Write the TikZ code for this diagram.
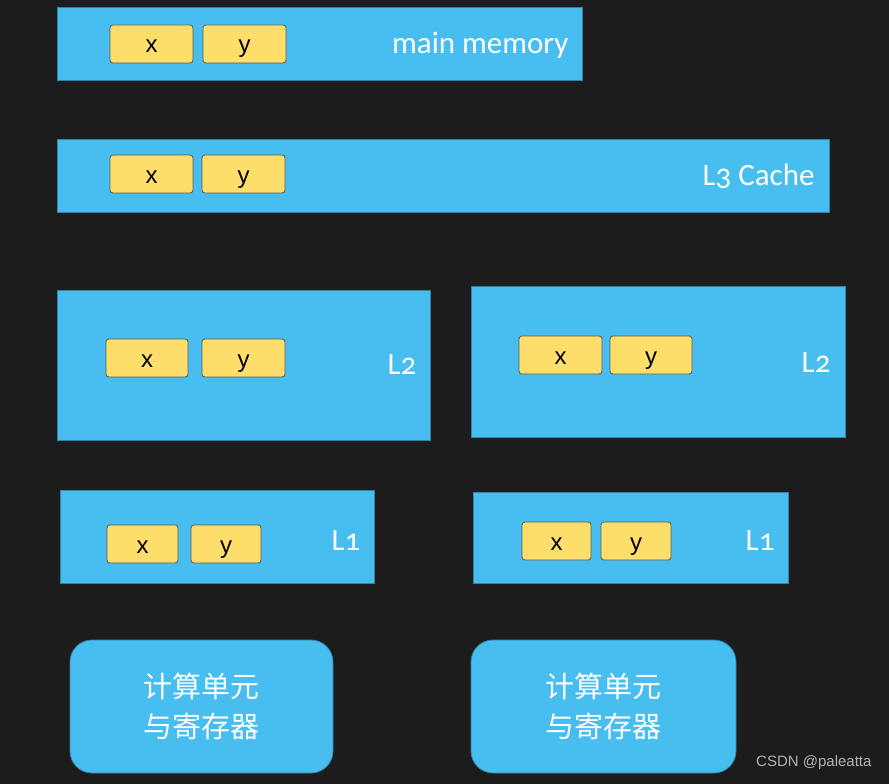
\documentclass[tikz,border=0pt]{standalone}
\usepackage{fontspec}
\setmainfont{Carlito}[Numbers=OldStyle]
\newfontfamily\cjk{Noto Sans CJK SC}
\newfontfamily\arialf{Liberation Sans}
\definecolor{bg}{HTML}{1C1C1C}
\definecolor{blu}{HTML}{48BDF0}
\definecolor{yel}{HTML}{FDDE6A}
\tikzset{
 blk/.style={fill=blu,draw=blu!70!black,line width=0.8pt},
 var/.style={fill=yel,draw=gray!70!black,rounded corners=3pt,line width=0.8pt},
 vt/.style={font=\arialf\fontsize{24}{24}\selectfont,text=black,anchor=base,inner sep=0pt},
 lab/.style={font=\fontsize{31}{31}\selectfont,text=white},
 cu/.style={fill=blu,draw=blu!70!black,rounded corners=22pt,line width=0.8pt},
 cut/.style={font=\cjk\fontsize{29}{40}\selectfont,text=white,align=center}
}
\newcommand\bx[5]{\path[blk] (#2,#3) rectangle (#4,#5); \coordinate (#1) at (#4,#3);}
\newcommand\vv[6]{\path[var] (#2,#3) rectangle (#4,#5); \node[vt] (#1) at ({(#2+#4)/2},{#5-10}) {#6};}
\begin{document}
\begin{tikzpicture}[x=1pt,y=-1pt]
\path[fill=bg] (0,0) rectangle (889,784);
\bx{mm}{57}{7}{582}{80}
\vv{mmx}{110}{25}{193}{63}{x}\vv{mmy}{203}{25}{286}{63}{y}
\node[lab,anchor=east] (mml) at (572,45) {main memory};
\bx{l3}{57}{139}{829}{212}
\vv{l3x}{110}{155}{193}{193}{x}\vv{l3y}{202}{155}{285}{193}{y}
\node[lab,anchor=east] (l3l) at (818,176) {L3 Cache};
\bx{l2a}{57}{290}{430}{440}
\vv{l2ax}{106}{339}{188}{377}{x}\vv{l2ay}{202}{339}{285}{377}{y}
\node[lab,anchor=east] (l2al) at (420,365) {L2};
\bx{l2b}{471}{286}{845}{437}
\vv{l2bx}{519}{336}{602}{374}{x}\vv{l2by}{610}{336}{692}{374}{y}
\node[lab,anchor=east] (l2bl) at (834,363) {L2};
\bx{l1a}{60}{490}{374}{583}
\vv{l1ax}{107}{525}{178}{563}{x}\vv{l1ay}{191}{525}{261}{563}{y}
\node[lab,anchor=east] (l1al) at (364,541) {L1};
\bx{l1b}{473}{492}{788}{583}
\vv{l1bx}{522}{522}{591}{560}{x}\vv{l1by}{601}{522}{671}{560}{y}
\node[lab,anchor=east] (l1bl) at (778,541) {L1};
\path[cu] (70,640) rectangle (333,773);
\node[cut] (cua) at (201.5,706) {计算单元\\与寄存器};
\path[cu] (471,640) rectangle (736,773);
\node[cut] (cub) at (603.5,706) {计算单元\\与寄存器};
\node[font=\arialf\fontsize{15}{15}\selectfont,text=gray!60,anchor=east] (wm) at (875,763) {CSDN @paleatta};
\end{tikzpicture}
\end{document}
